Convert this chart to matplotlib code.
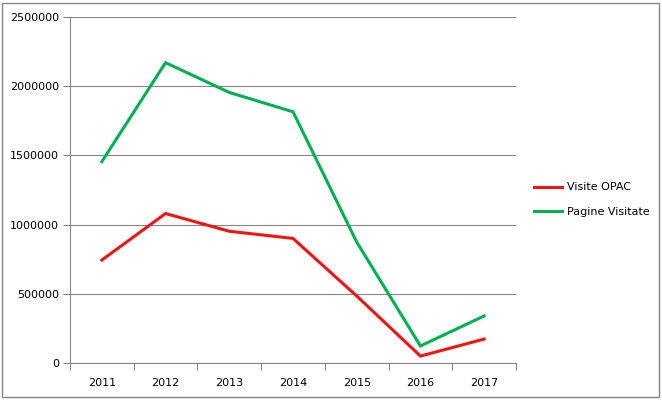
import matplotlib
matplotlib.use("Agg")
import matplotlib.pyplot as plt
from matplotlib.patches import Rectangle

# ── data ──────────────────────────────
years = ["2011", "2012", "2013", "2014", "2015", "2016", "2017"]
visite_opac = [744000, 1080000, 952000, 900000, 484000, 50000, 173000]
pagine_visitate = [1455000, 2170000, 1955000, 1815000, 874000, 123000, 340000]
y_ticks = [0, 500000, 1000000, 1500000, 2000000, 2500000]

GRID = "#868686"

fig = plt.figure(figsize=(6.62, 4.0), dpi=100)
ax = fig.add_axes([70 / 662, 37 / 400, 446 / 662, 346 / 400])

x = list(range(len(years)))
ax.plot(x, visite_opac, color="#F01414", lw=2.2, label="Visite OPAC",
        solid_joinstyle="miter")
ax.plot(x, pagine_visitate, color="#00B050", lw=2.2, label="Pagine Visitate",
        solid_joinstyle="miter")

ax.set_xlim(-0.5, len(years) - 0.5)
ax.set_ylim(0, 2500000)
ax.set_yticks(y_ticks)
ax.set_yticklabels([str(v) for v in y_ticks], fontsize=8)
ax.yaxis.grid(True, color=GRID, lw=0.8)
ax.set_axisbelow(True)

# category labels centered, tick marks between categories
ax.set_xticks(x)
ax.set_xticklabels(years, fontsize=8)
ax.set_xticks([i - 0.5 for i in range(len(years) + 1)], minor=True)
ax.tick_params(axis="x", which="major", length=0, pad=11)
ax.tick_params(axis="x", which="minor", length=5, color=GRID, width=0.8)
ax.tick_params(axis="y", length=5, color=GRID, width=0.8, pad=3)

for side in ["top", "right"]:
    ax.spines[side].set_visible(False)
for side in ["left", "bottom"]:
    ax.spines[side].set_color(GRID)
    ax.spines[side].set_linewidth(0.8)

fig.legend(loc="upper left", bbox_to_anchor=(530 / 662, 1 - 178 / 400),
           frameon=False, fontsize=8, handlelength=2.5, handletextpad=0.4,
           labelspacing=1.3, borderaxespad=0)

# outer chart border
fig.patches.append(Rectangle((2 / 662, 3 / 400), 657 / 662, 394 / 400,
                             transform=fig.transFigure, fill=False,
                             edgecolor=GRID, lw=1.0))

fig.savefig("out.png", dpi=100, facecolor="white")
